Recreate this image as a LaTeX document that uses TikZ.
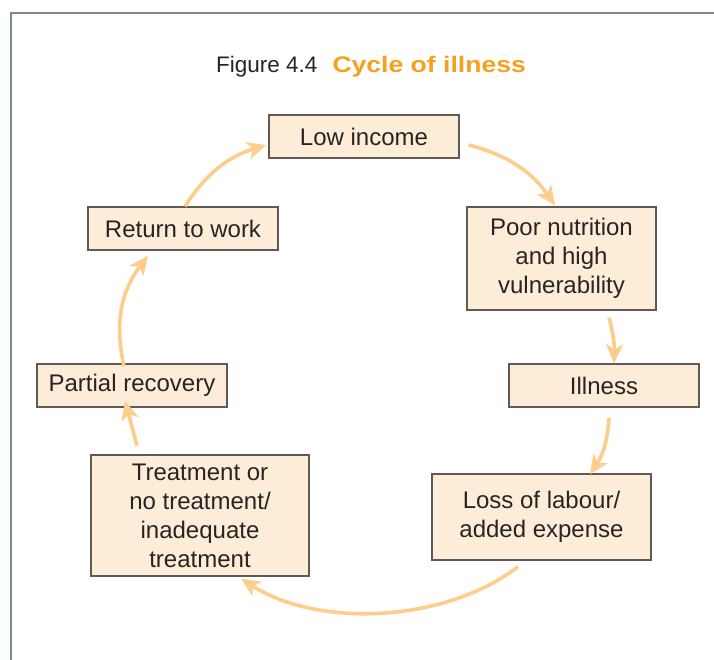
\documentclass[tikz,border=0pt]{standalone}
\usepackage{fontspec}
\setmainfont{Liberation Sans}
\usepackage{xcolor}
\usepackage{tikz}
\usetikzlibrary{arrows.meta, positioning}
\definecolor{cyclefill}{RGB}{253,237,216}
\definecolor{cycleedge}{RGB}{95,90,85}
\definecolor{cyclearrow}{RGB}{253,205,140}
\definecolor{cycleorange}{RGB}{245,160,30}
\definecolor{cycletext}{RGB}{40,36,36}
\definecolor{cycleframe}{RGB}{120,140,130}

\begin{document}
\begin{tikzpicture}[x=1pt, y=1pt,
    box/.style={draw=cycleedge, line width=1.4pt, fill=cyclefill, text=cycletext, inner sep=0pt, align=center, font=\fontsize{24}{29}\selectfont},
    flow/.style={draw=cyclearrow, line width=3.6pt, -{Stealth[length=19pt, width=17pt, inset=5pt]}}]
    \useasboundingbox (0,0) rectangle (714,660);

    % Frame
    \draw[cycleframe, line width=2pt] (11,0) -- (11,647) -- (714,647);

    % Title
    \node[anchor=base west, text=cycletext, inner sep=0pt, font=\fontsize{22.5}{27}\selectfont] (title) at (216,587) {Figure 4.4\hspace{15pt}{\color{cycleorange}\bfseries\scalebox{1.18}[1]{Cycle of illness}}};

    % Boxes
    \node[box, minimum width=190pt, minimum height=43pt] (low) at (364,523.5) {Low income};
    \node[box, minimum width=189pt, minimum height=103pt] (poor) at (561.5,401.5) {Poor nutrition\\and high\\vulnerability};
    \node[box, minimum width=190pt, minimum height=43pt] (illness) at (604,274.5) {Illness};
    \node[box, minimum width=219pt, minimum height=86pt] (loss) at (541.5,143) {Loss of labour/\\added expense};
    \node[box, minimum width=218pt, minimum height=121pt] (treat) at (200,144.5) {Treatment or\\no treatment/\\inadequate\\treatment};
    \node[box, minimum width=190pt, minimum height=43pt] (partial) at (132,274.5) {Partial recovery};
    \node[box, minimum width=190pt, minimum height=43pt] (ret) at (183,431.5) {Return to work};

    % Cycle arrows
    \draw[flow] ([shift={(9,-8.5)}]low.east) to[bend left=20] ([shift={(-6.5,1)}]poor.north);
    \draw[flow] ([shift={(47.5,-7)}]poor.south) to[bend left=8] ([shift={(10,0)}]illness.north);
    \draw[flow] ([shift={(5,-10)}]illness.south) to[bend left=15] ([shift={(48.5,-1)}]loss.north);
    \draw[flow] ([shift={(-23.5,-6)}]loss.south) to[bend left=35, looseness=0.85] ([shift={(41,-2)}]treat.south);
    \draw[flow] ([shift={(-63,8.5)}]treat.north) -- ([shift={(-7,7)}]partial.south);
    \draw[flow] ([shift={(-8,-3)}]partial.north) to[bend left=25] ([shift={(-35,-5)}]ret.south);
    \draw[flow] ([shift={(2,0)}]ret.north) to[bend left=20] ([shift={(-2,-8.5)}]low.west);
\end{tikzpicture}
\end{document}
